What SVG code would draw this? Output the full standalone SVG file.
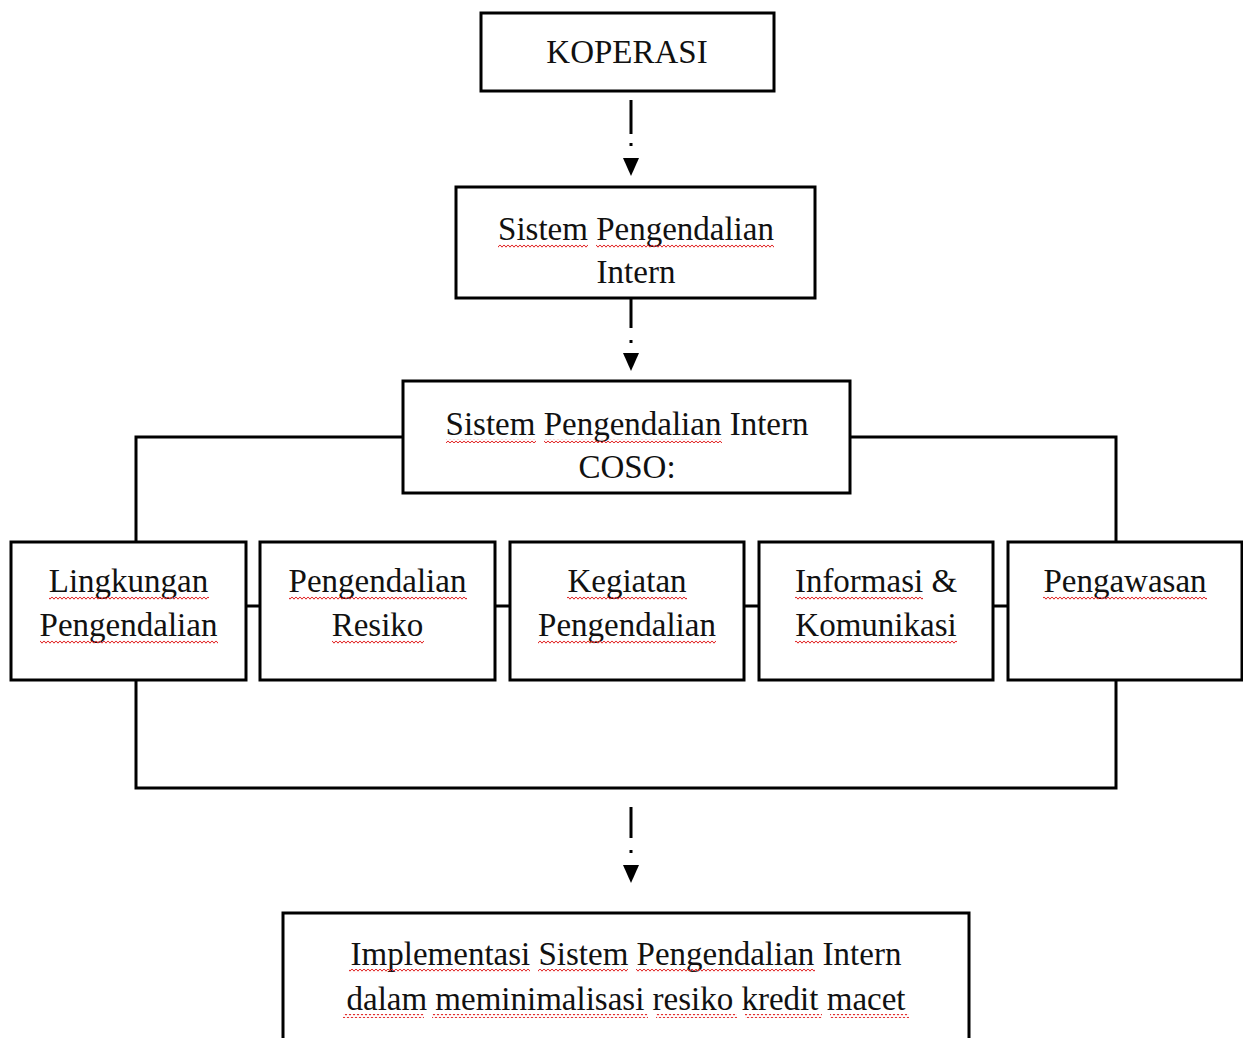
<svg xmlns="http://www.w3.org/2000/svg" width="1243" height="1038" viewBox="0 0 1243 1038">
<style>
.box{fill:#fff;stroke:#000;stroke-width:3}
.ln{fill:none;stroke:#000;stroke-width:3}
.dash{fill:none;stroke:#000;stroke-width:3}
text{font-family:"Liberation Serif","Times New Roman",serif;font-size:33px;fill:#111;text-anchor:middle}
.sq{fill:url(#squig)}
</style>
<defs>
<pattern id="squig" patternUnits="userSpaceOnUse" width="4" height="4">
<path d="M0 0.8 L2 3.2 L4 0.8" fill="none" stroke="#e02020" stroke-width="1"/>
</pattern>
<marker id="ah" viewBox="0 0 18 16" refX="0" refY="8" markerWidth="18" markerHeight="16" markerUnits="userSpaceOnUse" orient="auto">
<path d="M0 0 L18 8 L0 16 z" fill="#000"/>
</marker>
</defs>
<rect width="1243" height="1038" fill="#fff"/>
<g id="connectors">
<path class="dash" d="M631 100 V158" stroke-dasharray="34 9 3 40" marker-end="url(#ah)"/>
<path class="dash" d="M631 298 V353" stroke-dasharray="30 12 3 40" marker-end="url(#ah)"/>
<path class="dash" d="M631 807 V865" stroke-dasharray="31 12 3 40" marker-end="url(#ah)"/>
<path class="ln" d="M403 437 H136 V542 M850 437 H1116 V542"/>
<path class="ln" d="M246 606 H260 M495 606 H510 M744 606 H759 M993 606 H1008"/>
<path class="ln" d="M136 680 V788 H1116 V680"/>
</g>
<g id="koperasi">
<rect class="box" x="481" y="13" width="293" height="78"/>
<text x="627" y="63">KOPERASI</text>
</g>
<g id="spi">
<rect class="box" x="456" y="187" width="359" height="111"/>
<text x="636" y="240">Sistem Pengendalian</text>
<text x="636" y="283">Intern</text>
<rect class="sq" x="498" y="244" width="90" height="4"/>
<rect class="sq" x="596" y="244" width="178" height="4"/>
</g>
<g id="coso">
<rect class="box" x="403" y="381" width="447" height="112"/>
<text x="627" y="435">Sistem Pengendalian Intern</text>
<text x="627" y="478">COSO:</text>
<rect class="sq" x="446" y="439" width="90" height="4"/>
<rect class="sq" x="544" y="439" width="178" height="4"/>
</g>
<g id="lingkungan">
<rect class="box" x="11" y="542" width="235" height="138"/>
<text x="128.5" y="592">Lingkungan</text>
<text x="128.5" y="636">Pengendalian</text>
<rect class="sq" x="49" y="596" width="160" height="4"/>
<rect class="sq" x="40" y="640" width="178" height="4"/>
</g>
<g id="resiko">
<rect class="box" x="260" y="542" width="235" height="138"/>
<text x="377.5" y="592">Pengendalian</text>
<text x="377.5" y="636">Resiko</text>
<rect class="sq" x="289" y="596" width="178" height="4"/>
<rect class="sq" x="332" y="640" width="92" height="4"/>
</g>
<g id="kegiatan">
<rect class="box" x="510" y="542" width="234" height="138"/>
<text x="627" y="592">Kegiatan</text>
<text x="627" y="636">Pengendalian</text>
<rect class="sq" x="567" y="596" width="120" height="4"/>
<rect class="sq" x="538" y="640" width="178" height="4"/>
</g>
<g id="informasi">
<rect class="box" x="759" y="542" width="234" height="138"/>
<text x="876" y="592">Informasi &amp;</text>
<text x="876" y="636">Komunikasi</text>
<rect class="sq" x="795" y="596" width="128" height="4"/>
<rect class="sq" x="795" y="640" width="162" height="4"/>
</g>
<g id="pengawasan">
<rect class="box" x="1008" y="542" width="234" height="138"/>
<text x="1125" y="592">Pengawasan</text>
<rect class="sq" x="1043" y="596" width="164" height="4"/>
</g>
<g id="implementasi">
<rect class="box" x="283" y="913" width="686" height="140"/>
<text x="626" y="965">Implementasi Sistem Pengendalian Intern</text>
<text x="626" y="1010">dalam meminimalisasi resiko kredit macet</text>
<rect class="sq" x="349" y="969" width="181" height="4"/>
<rect class="sq" x="538" y="969" width="90" height="4"/>
<rect class="sq" x="636" y="969" width="179" height="4"/>
<rect class="sq" x="343" y="1014" width="81" height="4"/>
<rect class="sq" x="432" y="1014" width="216" height="4"/>
<rect class="sq" x="656" y="1014" width="81" height="4"/>
<rect class="sq" x="745" y="1014" width="77" height="4"/>
<rect class="sq" x="830" y="1014" width="79" height="4"/>
</g>
</svg>
